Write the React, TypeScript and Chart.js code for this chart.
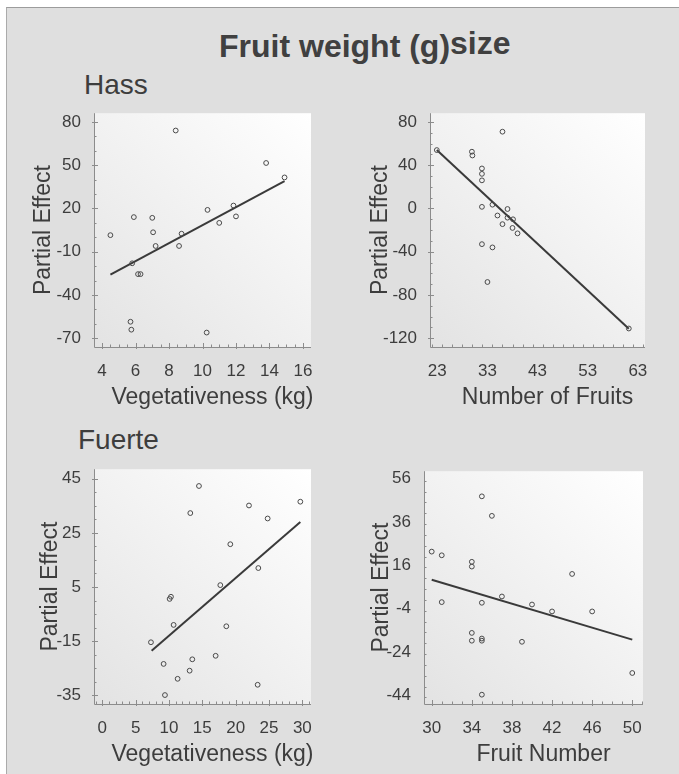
import React, { useEffect, useRef } from 'react';
import Chart from 'chart.js/auto';

// ---------- DATA ----------
// Hass: Vegetativeness (kg)
const hassVegX = [4.5, 5.9, 7.0, 7.05, 7.2, 5.8, 6.15, 6.3, 5.7, 5.75, 8.4, 8.75, 8.6, 10.3, 11.0, 11.85, 12.0, 10.25, 13.8, 14.9];
const hassVegY = [1.5, 14, 13.5, 3.5, -6, -18, -25.5, -25.5, -58.5, -64, 74, 2.5, -6, 19, 10, 22, 14.5, -66, 51.5, 41.5];
const hassVegLineX = [4.5, 14.9];
const hassVegLineY = [-25.8, 39];
const hassVegTicksX = [4, 6, 8, 10, 12, 14, 16];
const hassVegTicksY = [80, 50, 20, -10, -40, -70];

// Hass: Number of Fruits
const hassFruitX = [22.9, 29.9, 30, 36, 31.9, 31.9, 31.9, 31.9, 34, 37, 35, 37, 38.1, 36, 38, 39, 31.9, 34, 33, 61.2];
const hassFruitY = [54, 52.5, 49, 71, 37, 32, 26, 1.5, 3.5, -0.5, -6.5, -8.5, -10, -14.5, -18, -23, -33, -36, -68, -111];
const hassFruitLineX = [22.9, 61.2];
const hassFruitLineY = [54, -111.2];
const hassFruitTicksX = [23, 33, 43, 53, 63];
const hassFruitTicksY = [80, 40, 0, -40, -80, -120];

// Fuerte: Vegetativeness (kg)
const fuerteVegX = [14.5, 13.2, 22, 24.8, 29.7, 19.2, 23.4, 17.7, 10.3, 10.1, 10.7, 18.6, 7.3, 9.2, 13.5, 17, 13.1, 11.3, 23.3, 9.4];
const fuerteVegY = [42.3, 32.3, 35.1, 30.3, 36.5, 20.8, 12, 5.7, 1.4, 0.6, -9, -9.5, -15.4, -23.4, -21.7, -20.4, -25.9, -28.9, -31.1, -34.9];
const fuerteVegLineX = [7.4, 29.7];
const fuerteVegLineY = [-18.5, 29];
const fuerteVegTicksX = [0, 5, 10, 15, 20, 25, 30];
const fuerteVegTicksY = [45, 25, 5, -15, -35];

// Fuerte: Fruit Number
const fuerteFruitX = [35, 36, 30, 31, 34, 34, 44, 31, 35, 37, 40, 42, 46, 34, 34, 35, 35, 39, 35, 50];
const fuerteFruitY = [47.8, 38.8, 22.3, 20.6, 17.6, 15.4, 12, -1, -1.3, 1.6, -2.1, -5.3, -5.3, -15.2, -18.8, -17.8, -18.8, -19.3, -43.7, -33.7];
const fuerteFruitLineX = [30, 50];
const fuerteFruitLineY = [9.3, -18.3];
const fuerteFruitTicksX = [30, 34, 38, 42, 46, 50];
const fuerteFruitTicksY = [56, 36, 16, -4, -24, -44];

const chartTitle = 'Fruit weight (g)';
const chartTitleSup = 'size';
const cultivarLabels = ['Hass', 'Fuerte'];
const yAxisTitle = 'Partial Effect';

// ---------- STYLE / LAYOUT ----------
const FONT = "'Liberation Sans', Arial, Helvetica, sans-serif";
const TEXT = '#3d3d3d';
const AXIS = '#8c8c8c';

type PanelSpec = {
  left: number; top: number; right: number; bottom: number;
  xMin: number; xMax: number; yMin: number; yMax: number;
  xTicks: number[]; yTicks: number[];
  xMinor: number; yMinor: number;
  xs: number[]; ys: number[]; lx: number[]; ly: number[];
  xTitle: string; yTitleGap: number;
};

const panels: PanelSpec[] = [
  { left: 94, top: 106, right: 311, bottom: 347, xMin: 3.52, xMax: 16.48, yMin: -76, yMax: 86,
    xTicks: hassVegTicksX, yTicks: hassVegTicksY, xMinor: 0.5, yMinor: 10,
    xs: hassVegX, ys: hassVegY, lx: hassVegLineX, ly: hassVegLineY,
    xTitle: 'Vegetativeness (kg)', yTitleGap: 44 },
  { left: 430, top: 106, right: 645, bottom: 347, xMin: 21.54, xMax: 64.43, yMin: -128.1, yMax: 88.1,
    xTicks: hassFruitTicksX, yTicks: hassFruitTicksY, xMinor: 2, yMinor: 10,
    xs: hassFruitX, ys: hassFruitY, lx: hassFruitLineX, ly: hassFruitLineY,
    xTitle: 'Number of Fruits', yTitleGap: 43 },
  { left: 94, top: 462, right: 311, bottom: 704, xMin: -1.24, xMax: 31.3, yMin: -38.2, yMax: 48.5,
    xTicks: fuerteVegTicksX, yTicks: fuerteVegTicksY, xMinor: 1, yMinor: 5,
    xs: fuerteVegX, ys: fuerteVegY, lx: fuerteVegLineX, ly: fuerteVegLineY,
    xTitle: 'Vegetativeness (kg)', yTitleGap: 37 },
  { left: 424, top: 464, right: 643, bottom: 704, xMin: 29.23, xMax: 51.07, yMin: -48, yMax: 59.4,
    xTicks: fuerteFruitTicksX, yTicks: fuerteFruitTicksY, xMinor: 1, yMinor: 5,
    xs: fuerteFruitX, ys: fuerteFruitY, lx: fuerteFruitLineX, ly: fuerteFruitLineY,
    xTitle: 'Fruit Number', yTitleGap: 36 },
];

const PAD_L = 30, Y_W = 60, PAD_T = 8, PAD_R = 24, X_H = 40, PAD_B = 30;

const decorPlugin = {
  id: 'decor',
  beforeDraw(chart: any) {
    const { ctx, chartArea: a } = chart;
    ctx.save();
    const g = ctx.createLinearGradient(a.right, a.top, a.left, a.bottom);
    g.addColorStop(0, '#ffffff');
    g.addColorStop(1, '#e3e3e3');
    ctx.fillStyle = g;
    ctx.fillRect(a.left, a.top, a.right - a.left, a.bottom - a.top);
    ctx.restore();
  },
  afterDraw(chart: any, _args: any, opts: any) {
    const { ctx, chartArea: a, scales } = chart;
    const xs = scales.x, ys = scales.y;
    ctx.save();
    ctx.strokeStyle = AXIS;
    ctx.lineWidth = 1;
    ctx.beginPath();
    ctx.moveTo(a.left + 0.5, a.top);
    ctx.lineTo(a.left + 0.5, a.bottom + 0.5);
    ctx.lineTo(a.right, a.bottom + 0.5);
    ctx.stroke();
    // minor + major ticks
    ctx.beginPath();
    const eps = 1e-6;
    const x0 = Math.ceil(xs.min / opts.xMinor - eps) * opts.xMinor;
    for (let v = x0; v <= xs.max + eps; v += opts.xMinor) {
      const px = Math.round(xs.getPixelForValue(v)) + 0.5;
      const major = opts.xTicks.some((t: number) => Math.abs(t - v) < 1e-6);
      ctx.moveTo(px, a.bottom + (major ? 2 : 0));
      ctx.lineTo(px, a.bottom - (major ? 4 : 2.5));
    }
    const y0 = Math.ceil(ys.min / opts.yMinor - eps) * opts.yMinor;
    for (let v = y0; v <= ys.max + eps; v += opts.yMinor) {
      const py = Math.round(ys.getPixelForValue(v)) + 0.5;
      const major = opts.yTicks.some((t: number) => Math.abs(t - v) < 1e-6);
      ctx.moveTo(a.left - (major ? 2 : 0), py);
      ctx.lineTo(a.left + (major ? 4 : 2.5), py);
    }
    ctx.stroke();
    // axis titles
    ctx.fillStyle = TEXT;
    ctx.font = `23px ${FONT}`;
    ctx.textAlign = 'center';
    ctx.textBaseline = 'alphabetic';
    ctx.fillText(opts.xTitle, (a.left + a.right) / 2 + 10, a.bottom + 57);
    ctx.translate(a.left - opts.yTitleGap, (a.top + a.bottom) / 2);
    ctx.rotate(-Math.PI / 2);
    ctx.fillText(opts.yTitle, 0, 0);
    ctx.restore();
  },
};

function Panel({ p }: { p: PanelSpec }) {
  const ref = useRef<HTMLCanvasElement>(null);
  const cw = p.right - p.left + PAD_L + Y_W + PAD_R;
  const ch = p.bottom - p.top + PAD_T + X_H + PAD_B;
  useEffect(() => {
    const canvas = ref.current!;
    const tickFont = { family: FONT, size: 17 };
    const chart = new Chart(canvas, {
      type: 'scatter',
      data: {
        datasets: [
          {
            data: p.xs.map((x, i) => ({ x, y: p.ys[i] })),
            pointStyle: 'circle',
            pointRadius: 2.4,
            pointBorderWidth: 1,
            borderColor: '#4a4a4a',
            backgroundColor: 'rgba(0,0,0,0)',
            showLine: false,
          },
          {
            type: 'line',
            data: p.lx.map((x, i) => ({ x, y: p.ly[i] })),
            showLine: true,
            borderColor: '#3a3a3a',
            borderWidth: 2,
            pointRadius: 0,
            fill: false,
          } as any,
        ],
      },
      options: {
        responsive: false,
        animation: false,
        devicePixelRatio: 1,
        events: [],
        layout: { padding: { left: PAD_L, top: PAD_T, right: PAD_R, bottom: PAD_B } },
        plugins: {
          legend: { display: false },
          tooltip: { enabled: false },
          decor: {
            xTitle: p.xTitle, yTitle: yAxisTitle, yTitleGap: p.yTitleGap,
            xMinor: p.xMinor, yMinor: p.yMinor, xTicks: p.xTicks, yTicks: p.yTicks,
          },
        } as any,
        scales: {
          x: {
            type: 'linear', position: 'bottom', min: p.xMin, max: p.xMax,
            grid: { display: false }, border: { display: false },
            ticks: { font: tickFont, color: TEXT, padding: 6, autoSkip: false, maxRotation: 0,
              callback: (v: any) => String(v) },
            afterBuildTicks: (s: any) => { s.ticks = p.xTicks.map((v) => ({ value: v })); },
            afterFit: (s: any) => { s.height = X_H; },
          },
          y: {
            type: 'linear', position: 'left', min: p.yMin, max: p.yMax,
            grid: { display: false }, border: { display: false },
            ticks: { font: tickFont, color: TEXT, padding: 5, autoSkip: false,
              callback: (v: any) => String(v) },
            afterBuildTicks: (s: any) => { s.ticks = p.yTicks.map((v) => ({ value: v })); },
            afterFit: (s: any) => { s.width = Y_W; },
          },
        } as any,
      },
      plugins: [decorPlugin as any],
    });
    return () => chart.destroy();
  }, []);
  return (
    <canvas
      ref={ref}
      width={cw}
      height={ch}
      style={{ position: 'absolute', left: p.left - PAD_L - Y_W, top: p.top - PAD_T, width: cw, height: ch }}
    />
  );
}

function Label({ text, x, baseline, size, bold }: { text: string; x: number; baseline: number; size: number; bold?: boolean }) {
  return (
    <div style={{ position: 'absolute', left: x, top: baseline - 0.8465 * size, fontFamily: FONT, fontSize: size,
      lineHeight: `${size}px`, fontWeight: bold ? 'bold' : 'normal', color: TEXT, whiteSpace: 'nowrap' }}>
      {text}
    </div>
  );
}

export default function App() {
  return (
    <div style={{ position: 'absolute', left: 0, top: 0, width: 679, height: 774, background: '#ffffff', overflow: 'hidden' }}>
      <div style={{ position: 'absolute', left: 6, top: 7, width: 673, height: 767, background: '#dfdfdf',
        borderTop: '1px solid #9c9c9c', borderLeft: '1px solid #ababab', boxSizing: 'border-box' }} />
      <div style={{ position: 'absolute', left: 219, top: 56.7 - 0.8465 * 32, fontFamily: FONT, fontSize: 32,
        lineHeight: '32px', fontWeight: 'bold', color: '#404040', whiteSpace: 'nowrap' }}>
        {chartTitle}
        <span style={{ position: 'relative', top: -3 }}>{chartTitleSup}</span>
      </div>
      <Label text={cultivarLabels[0]} x={84} baseline={95} size={28} />
      <Label text={cultivarLabels[1]} x={78} baseline={450} size={28} />
      {panels.map((p, i) => <Panel key={i} p={p} />)}
    </div>
  );
}
